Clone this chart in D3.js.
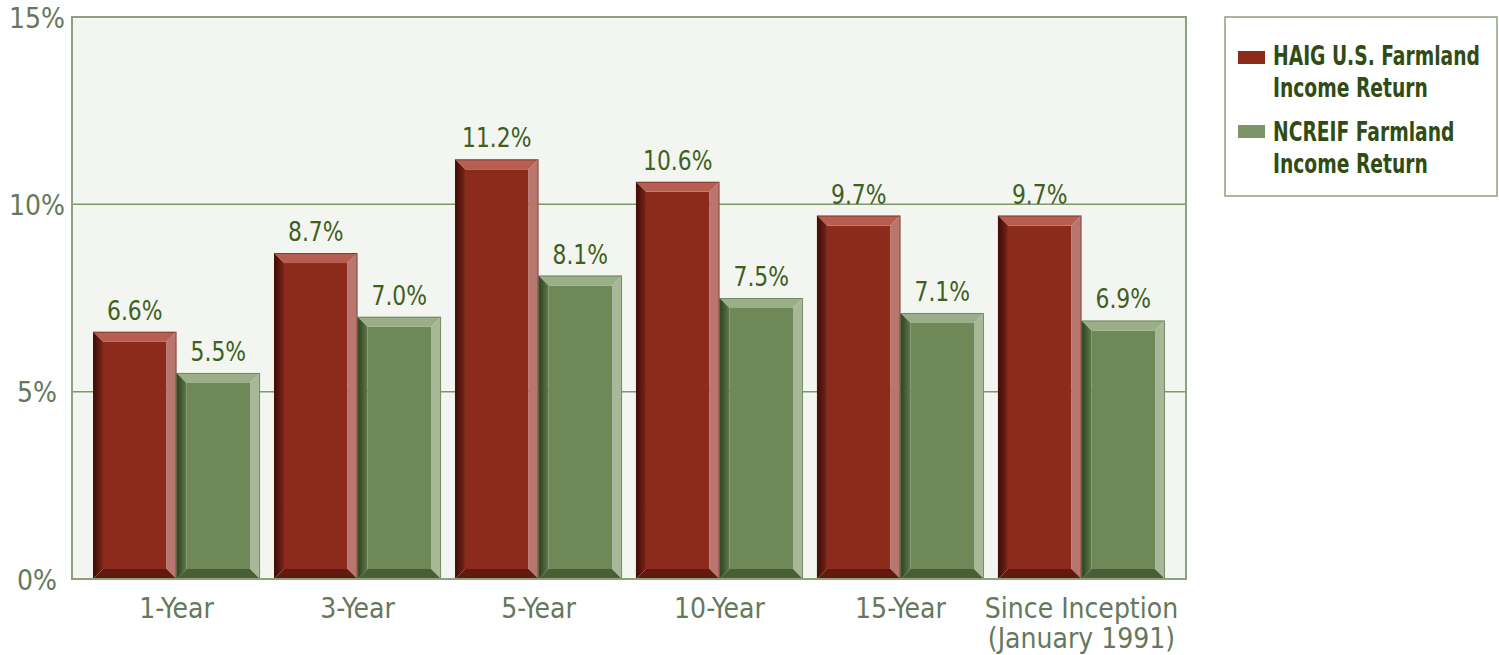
<!DOCTYPE html>
<html>
<head>
<meta charset="utf-8">
<script src="https://cdn.jsdelivr.net/npm/d3@7"></script>
<style>
  html, body { margin: 0; padding: 0; background: #ffffff; }
  svg { display: block; }
  text { font-family: "DejaVu Sans Condensed", "DejaVu Sans", sans-serif; font-stretch: condensed; }
</style>
</head>
<body>
<svg id="chart" width="1499" height="655"></svg>
<script>
// Periods shown along the x axis (second line used for the last one)
const categories = ["1-Year", "3-Year", "5-Year", "10-Year", "15-Year", "Since Inception\n(January 1991)"];
const seriesNames = ["HAIG U.S. Farmland Income Return", "NCREIF Farmland Income Return"];
const haigValues = [6.6, 8.7, 11.2, 10.6, 9.7, 9.7];
const ncreifValues = [5.5, 7.0, 8.1, 7.5, 7.1, 6.9];
const yTicks = [0, 5, 10, 15];

const svg = d3.select("#chart");
const plot = { left: 72, right: 1186, top: 17, bottom: 579 };

// Bevel palettes: face, top, right, bottom, left (dark -> mid)
const palettes = [
  { face: "#8c2a1b", top: "#b65e52", right: "#b8766e", bottom: "#64190f", leftA: "#3a0c06", leftB: "#7a2417", edge: "#5a1a10" },
  { face: "#6e8957", top: "#9aae87", right: "#a7b899", bottom: "#485f36", leftA: "#2c3f20", leftB: "#5f7a4a", edge: "#4a6238" }
];

// Text drawn through a horizontal squeeze so a wide font reads as condensed
function squeezed(parent, x, yPos, str, sx, anchor) {
  const g = parent.append("g").attr("transform", `translate(${x},${yPos}) scale(${sx},1)`);
  return g.append("text").attr("x", 0).attr("y", 0).attr("text-anchor", anchor || "start").text(str);
}

const x0 = d3.scaleBand()
  .domain(categories)
  .range([plot.left, plot.right])
  .paddingInner(0.077)
  .paddingOuter(0.116);

const x1 = d3.scaleBand()
  .domain([0, 1])
  .range([0, x0.bandwidth()]);

const y = d3.scaleLinear()
  .domain([0, 15])
  .range([plot.bottom, plot.top]);

// Plot background
svg.append("rect")
  .attr("x", plot.left).attr("y", plot.top)
  .attr("width", plot.right - plot.left).attr("height", plot.bottom - plot.top)
  .attr("fill", "#f3f5f0");

// Gridlines at the intermediate ticks
svg.append("g")
  .selectAll("line")
  .data(yTicks.filter(t => t > 0 && t < 15))
  .join("line")
  .attr("x1", plot.left).attr("x2", plot.right)
  .attr("y1", d => y(d)).attr("y2", d => y(d))
  .attr("stroke", "#7f9868").attr("stroke-width", 1.5);

// Y axis labels, centred in the left margin
const yAxis = d3.axisLeft(y).tickValues(yTicks).tickFormat(d => d + "%").tickSize(0).tickPadding(0);
const yg = svg.append("g").attr("transform", `translate(${plot.left},0)`).call(yAxis);
yg.select(".domain").remove();
yg.selectAll("text")
  .attr("x", 37 - plot.left)
  .attr("text-anchor", "middle")
  .attr("font-size", 28)
  .attr("fill", "#66785c")
  .attr("dy", "0.36em")
  .style("font-family", "\"DejaVu Sans Condensed\", sans-serif");

// Gradient for the shaded left bevel of each series
const defs = svg.append("defs");
palettes.forEach((p, i) => {
  const g = defs.append("linearGradient").attr("id", "leftBevel" + i)
    .attr("x1", "0").attr("x2", "1").attr("y1", "0").attr("y2", "0");
  g.append("stop").attr("offset", "0").attr("stop-color", p.leftA);
  g.append("stop").attr("offset", "1").attr("stop-color", p.leftB);
});

// Bars
const rows = [];
categories.forEach((c, ci) => {
  [haigValues[ci], ncreifValues[ci]].forEach((v, si) => rows.push({ c, si, v }));
});

const bev = 10;
const barG = svg.append("g");
const labelG = svg.append("g");
rows.forEach(d => {
  const p = palettes[d.si];
  const x = x0(d.c) + x1(d.si);
  const w = x1.bandwidth();
  const yt = y(d.v);
  const h = y(0) - yt;
  const g = barG.append("g");
  const pts = arr => arr.map(q => q.join(",")).join(" ");
  g.append("rect").attr("x", x + bev).attr("y", yt + bev)
    .attr("width", w - 2 * bev).attr("height", h - 2 * bev).attr("fill", p.face);
  g.append("polygon").attr("points", pts([[x, yt], [x + w, yt], [x + w - bev, yt + bev], [x + bev, yt + bev]])).attr("fill", p.top);
  g.append("polygon").attr("points", pts([[x + w, yt], [x + w, yt + h], [x + w - bev, yt + h - bev], [x + w - bev, yt + bev]])).attr("fill", p.right);
  g.append("polygon").attr("points", pts([[x, yt + h], [x + w, yt + h], [x + w - bev, yt + h - bev], [x + bev, yt + h - bev]])).attr("fill", p.bottom);
  g.append("polygon").attr("points", pts([[x, yt], [x + bev, yt + bev], [x + bev, yt + h - bev], [x, yt + h]])).attr("fill", `url(#leftBevel${d.si})`);
  g.append("rect").attr("x", x + 0.5).attr("y", yt + 0.5)
    .attr("width", w - 1).attr("height", h - 1)
    .attr("fill", "none").attr("stroke", p.edge).attr("stroke-width", 1).attr("stroke-opacity", 0.5);
  // value label
  squeezed(labelG, x + w / 2, yt - 12, d.v.toFixed(1) + "%", 0.9, "middle")
    .attr("font-size", 27)
    .attr("fill", "#3f5f20");
});

// Plot frame
svg.append("rect")
  .attr("x", plot.left).attr("y", plot.top)
  .attr("width", plot.right - plot.left).attr("height", plot.bottom - plot.top)
  .attr("fill", "none").attr("stroke", "#8ea07c").attr("stroke-width", 2);

// X axis category labels
const xg = svg.append("g");
categories.forEach(c => {
  const cx = x0(c) + x0.bandwidth() / 2;
  c.split("\n").forEach((ln, i) => {
    xg.append("text")
      .attr("x", cx)
      .attr("y", 618 + i * 30)
      .attr("text-anchor", "middle")
      .attr("font-size", 28)
      .attr("fill", "#66785c")
      .text(ln);
  });
});

// Legend
const legend = svg.append("g");
legend.append("rect")
  .attr("x", 1225).attr("y", 17).attr("width", 272).attr("height", 179)
  .attr("fill", "#ffffff").attr("stroke", "#8ea07c").attr("stroke-width", 1.5);
const legendLines = [["HAIG U.S. Farmland", "Income Return"], ["NCREIF Farmland", "Income Return"]];
const legendColors = ["#8a2a18", "#7d9468"];
const legendSwatchTop = [51, 125];
const legendBaseline = [65, 141];
legendLines.forEach((lines, k) => {
  legend.append("rect").attr("x", 1238).attr("y", legendSwatchTop[k]).attr("width", 27).attr("height", 13).attr("fill", legendColors[k]);
  lines.forEach((ln, i) => {
    squeezed(legend, 1273, legendBaseline[k] + i * 32, ln, 0.8)
      .attr("font-size", 26).attr("font-weight", "bold")
      .attr("fill", "#2f4c14");
  });
});
</script>
</body>
</html>
